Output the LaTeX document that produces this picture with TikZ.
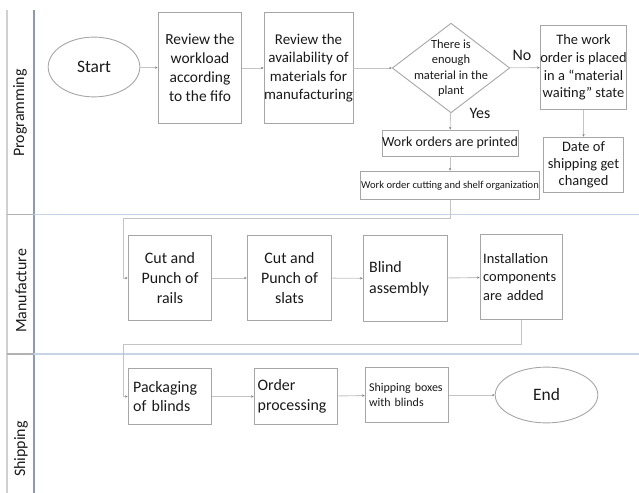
\documentclass[tikz,border=0pt]{standalone}
\usepackage{fontspec}
\setmainfont{Carlito}
\usetikzlibrary{arrows.meta,shapes.geometric}
\definecolor{boxline}{HTML}{A6A6A6}
\definecolor{linkline}{HTML}{C4C4C4}
\definecolor{lanesep}{HTML}{C6D4E4}
\definecolor{laneedge}{HTML}{8E9AAE}
\definecolor{outeredge}{HTML}{D0D0D0}
\definecolor{txt}{HTML}{1A1A1A}
\tikzset{
  fs/.style n args={2}{font=\fontsize{#1}{#2}\selectfont},
  procbox/.style={draw=boxline, line width=0.9bp, fill=white, inner sep=0pt, text=txt},
  termnode/.style={ellipse, draw=boxline, line width=0.9bp, inner sep=0pt, text=txt, fs={17.5}{20}},
  decision/.style={diamond, draw=boxline, line width=0.9bp, inner sep=0pt, text=txt},
  link/.style={draw=linkline, line width=0.9bp, -{Stealth[length=2.6bp,width=2.4bp,color=gray]}},
  lanelabel/.style={rotate=90, text=txt, fs={16}{19}},
}
\begin{document}
\begin{tikzpicture}[x=1bp,y=-1bp]
\useasboundingbox (0,0) rectangle (639,493);
% lane frame
\draw[outeredge, line width=1.6bp] (7,10) -- (7,493);
\draw[laneedge, line width=1.4bp] (34,10) -- (34,493);
\foreach \yy in {214.5,354} {
  \draw[gray!60, line width=1.6bp] (7,\yy) -- (34,\yy);
  \draw[lanesep, line width=1.8bp] (34,\yy) -- (639,\yy);
}
\node[lanelabel] (lprog) at (20,113) {Programming};
\node[lanelabel] (lmanu) at (21,291) {Manufacture};
\node[lanelabel] (lship) at (21,449) {Shipping};

% Programming lane
\node[termnode, minimum width=92, minimum height=60] (start) at (94,67) {Start};
\node[procbox, minimum width=84, minimum height=112, align=center, fs={15.5}{19}] (workload) at (200,68)
  {Review the\\workload\\according\\to the fifo};
\node[procbox, minimum width=83, minimum height=112, align=center, fs={15}{18.5}] (avail) at (308.5,68)
  {Review the\\availability of\\materials for\\manufacturing};
\node[decision, minimum width=118, minimum height=90,
  label={[align=center, text=txt, fs={12.5}{15.5}, inner sep=0pt]center:{There is\\enough\\material in the\\plant}}]
  (enough) at (451,68) {};
\node[procbox, minimum width=85, minimum height=85, align=center, fs={14.5}{17.6}] (waiting) at (583.5,67.5)
  {The work\\order is placed\\in a “material\\waiting” state};
\node[procbox, minimum width=81, minimum height=56, align=center, fs={14.5}{17}] (reship) at (583.5,165)
  {Date of\\shipping get\\changed};
\node[procbox, minimum width=134, minimum height=26, align=center, fs={14}{16}] (printed) at (450,143)
  {Work orders are printed};
\node[procbox, minimum width=180, minimum height=29, align=center, fs={10.6}{13}] (shelf) at (450,185.5)
  {Work order cutting and shelf organization};
\node[text=txt, fs={16}{19}] (nolbl) at (522,55) {No};
\node[text=txt, fs={16}{19}] (yeslbl) at (480,113) {Yes};

% Manufacture lane
\node[procbox, minimum width=84, minimum height=86, align=center, fs={16}{20}] (rails) at (170,278)
  {Cut and\\Punch of\\rails};
\node[procbox, minimum width=85, minimum height=86, align=center, fs={16}{20}] (slats) at (289.5,278)
  {Cut and\\Punch of\\slats};
\node[procbox, minimum width=85, minimum height=87, align=left, fs={16}{21}, text width=73] (assembly) at (405.5,278.5)
  {Blind\\assembly};
\node[procbox, minimum width=83, minimum height=86, align=left, fs={14.5}{18.5}, text width=77] (install) at (521.5,277)
  {Installation\\components\\are added};

% Shipping lane
\node[procbox, minimum width=84, minimum height=57, align=left, fs={16}{20}, text width=74] (packing) at (170,396.5)
  {Packaging\\of blinds};
\node[procbox, minimum width=84, minimum height=57, align=left, fs={16}{20}, text width=77] (orderproc) at (296,396.5)
  {Order\\processing};
\node[procbox, minimum width=84, minimum height=56, align=left, fs={12}{15}, text width=76] (boxes) at (407,395)
  {Shipping boxes\\with blinds};
\node[termnode, minimum width=103, minimum height=56] (finish) at (546.5,395) {End};

% bend points of the lane-crossing links
\coordinate (b1) at (450,218);
\coordinate (b2) at (123,218);
\coordinate (b3) at (123,278);
\coordinate (b4) at (521.5,344);
\coordinate (b5) at (123,344);
\coordinate (b6) at (123,396.5);

% links
\draw[link] (start) -- (workload);
\draw[link] (workload) -- (avail);
\draw[link] (avail) -- (enough);
\draw[link] (enough) -- (waiting);
\draw[link] (waiting) -- (reship);
\draw[link] (enough) -- (printed);
\draw[link] (printed) -- (shelf);
\draw[link] (shelf.south) -- (b1) -- (b2) -- (b3) -- (rails.west);
\draw[link] (rails) -- (slats);
\draw[link] (slats) -- (assembly);
\draw[link] (assembly) -- (install);
\draw[link] (install.south) -- (b4) -- (b5) -- (b6) -- (packing.west);
\draw[link] (packing) -- (orderproc);
\draw[link] (orderproc) -- (boxes);
\draw[link] (boxes) -- (finish);
\end{tikzpicture}
\end{document}
